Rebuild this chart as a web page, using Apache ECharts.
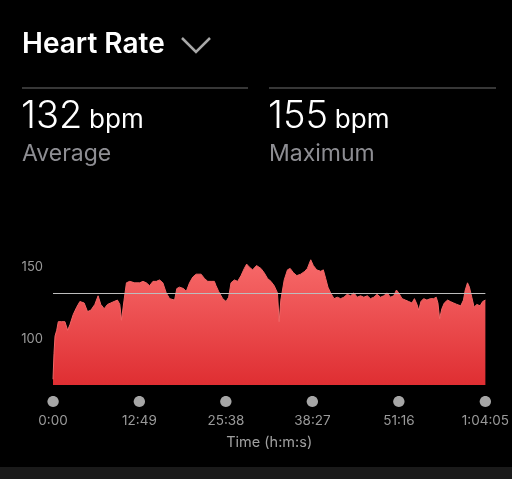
<!DOCTYPE html>
<html>
<head>
<meta charset="utf-8">
<script src="https://cdn.jsdelivr.net/npm/echarts@6/dist/echarts.min.js"></script>
<style>
html,body{margin:0;padding:0;background:#000;}
#c{width:512px;height:479px;}
</style>
</head>
<body>
<div id="c"></div>
<script>
// time in seconds since start
var times = [0,9,18,33,47,77,106,130,151,180,210,239,277,307,337,372,401,425,455,485,514,543,573,594,609,632,653,682,727,771,800,830,859,889,919,948,977,1007,1037,1081,1101,1125,1161,1185,1214,1243,1273,1317,1347,1376,1406,1435,1450,1473,1509,1539,1562,1583,1613,1642,1672,1701,1722,1745,1775,1810,1849,1878,1908,1938,1967,1996,2011,2026,2056,2085,2109,2138,2168,2203,2239,2262,2292,2315,2345,2381,2404,2425,2445,2469,2499,2528,2558,2587,2616,2646,2676,2705,2735,2764,2795,2823,2853,2882,2912,2942,2971,3001,3030,3054,3074,3104,3134,3163,3192,3214,3237,3252,3272,3296,3325,3355,3385,3408,3423,3438,3458,3480,3509,3533,3562,3591,3626,3650,3666,3686,3703,3724,3745,3768,3798,3821,3845];
// heart rate in bpm
var heartRate = [72,90,102,106,112,112,112,106,110,117,122,126,125,119,120,124,130,124,121,124,125,126,127,124,113,127,139,140,139,139,140,139,137,140,140,141,139,132,128,127,135,136,135,133,139,143,145,145,142,140,140,140,137,133,128,126,129,139,141,140,144,149,152,150,148,151,149,146,142,140,137,132,112,127,141,148,149,146,144,145,147,149,155,151,148,147,148,142,136,132,128,129,128,129,131,130,132,129,130,129,130,128,129,131,129,130,132,129,130,134,132,128,127,126,125,128,124,120,126,128,127,128,128,129,125,114,121,125,127,126,125,124,123,127,134,139,136,129,122,124,123,126,127];
var averageBpm = 132;
var maximumBpm = 155;
var xTickValues = [0,769,1538,2307,3076,3845];
var xTickLabels = ['0:00','12:49','25:38','38:27','51:16','1:04:05'];
var yTickValues = [100,150];

var seriesData = times.map(function(t,i){return [t, heartRate[i]];});

var chart = echarts.init(document.getElementById('c'), null, {renderer:'canvas'});
var FONT = 'Inter, "Noto Sans", sans-serif';
chart.setOption({
  backgroundColor:'#000',
  animation:false,
  grid:{left:53,right:25,top:231,bottom:94},
  xAxis:{
    type:'value', min:0, max:3845, interval:769,
    axisLine:{show:false}, axisTick:{show:false}, splitLine:{show:false},
    axisLabel:{
      showMinLabel:true, showMaxLabel:true, margin:9,
      formatter:function(v){
        var i = xTickValues.indexOf(v);
        return '{dot|●}\n{t|' + (i>=0 ? xTickLabels[i] : '') + '}';
      },
      rich:{
        dot:{color:'#a6a6a6', fontSize:15, lineHeight:17, fontFamily:FONT},
        t:{color:'#9a9a9a', fontSize:13.5, lineHeight:20, fontFamily:FONT}
      }
    },
    name:'Time (h:m:s)', nameLocation:'middle', nameGap:50,
    nameTextStyle:{color:'#a0a0a0', fontSize:14.5, fontFamily:FONT}
  },
  yAxis:{
    type:'value', min:68, max:175,
    axisLine:{show:false}, axisTick:{show:false}, splitLine:{show:false},
    axisLabel:{customValues:yTickValues, color:'#9a9a9a', fontSize:13, margin:10, fontFamily:FONT}
  },
  series:[{
    type:'line', data:seriesData, symbol:'none', smooth:false,
    lineStyle:{width:1, color:'#f26666'},
    areaStyle:{origin:'start', opacity:1, color:new echarts.graphic.LinearGradient(0,0,0,1,[
      {offset:0,color:'#f76a6a'},{offset:1,color:'#df2e32'}
    ])},
    markLine:{
      silent:true, symbol:'none', label:{show:false},
      lineStyle:{color:'#bdbdbd', width:1, type:'solid'},
      data:[{yAxis:averageBpm}]
    }
  }],
  graphic:[
    {type:'rect', shape:{x:0,y:467,width:512,height:12}, style:{fill:'#1a1a1a'}},
    {type:'text', style:{x:22,y:45,text:'Heart Rate',fill:'#fff',font:'600 28px '+FONT,textVerticalAlign:'middle'}},
    {type:'polyline', shape:{points:[[182,38],[196,52],[210,38]]}, style:{stroke:'#a8a8a8',lineWidth:2.5,fill:null}},
    {type:'line', shape:{x1:22,y1:88,x2:248,y2:88}, style:{stroke:'#4a4a4a',lineWidth:1.5}},
    {type:'line', shape:{x1:269,y1:88,x2:496,y2:88}, style:{stroke:'#4a4a4a',lineWidth:1.5}},
    {type:'text', style:{x:21,y:117,text:'{a|'+averageBpm+'}{s| }{b|bpm}',textVerticalAlign:'middle',
      rich:{a:{fill:'#fff',font:'300 38px '+FONT},s:{font:'400 24px '+FONT},b:{fill:'#fff',font:'400 26px '+FONT, padding:[6,0,0,0]}}}},
    {type:'text', style:{x:22,y:154,text:'Average',fill:'#8e8e93',font:'400 23px '+FONT,textVerticalAlign:'middle'}},
    {type:'text', style:{x:268,y:117,text:'{a|'+maximumBpm+'}{s| }{b|bpm}',textVerticalAlign:'middle',
      rich:{a:{fill:'#fff',font:'300 38px '+FONT},s:{font:'400 24px '+FONT},b:{fill:'#fff',font:'400 26px '+FONT, padding:[6,0,0,0]}}}},
    {type:'text', style:{x:269,y:154,text:'Maximum',fill:'#8e8e93',font:'400 23px '+FONT,textVerticalAlign:'middle'}}
  ]
});
</script>
</body>
</html>
